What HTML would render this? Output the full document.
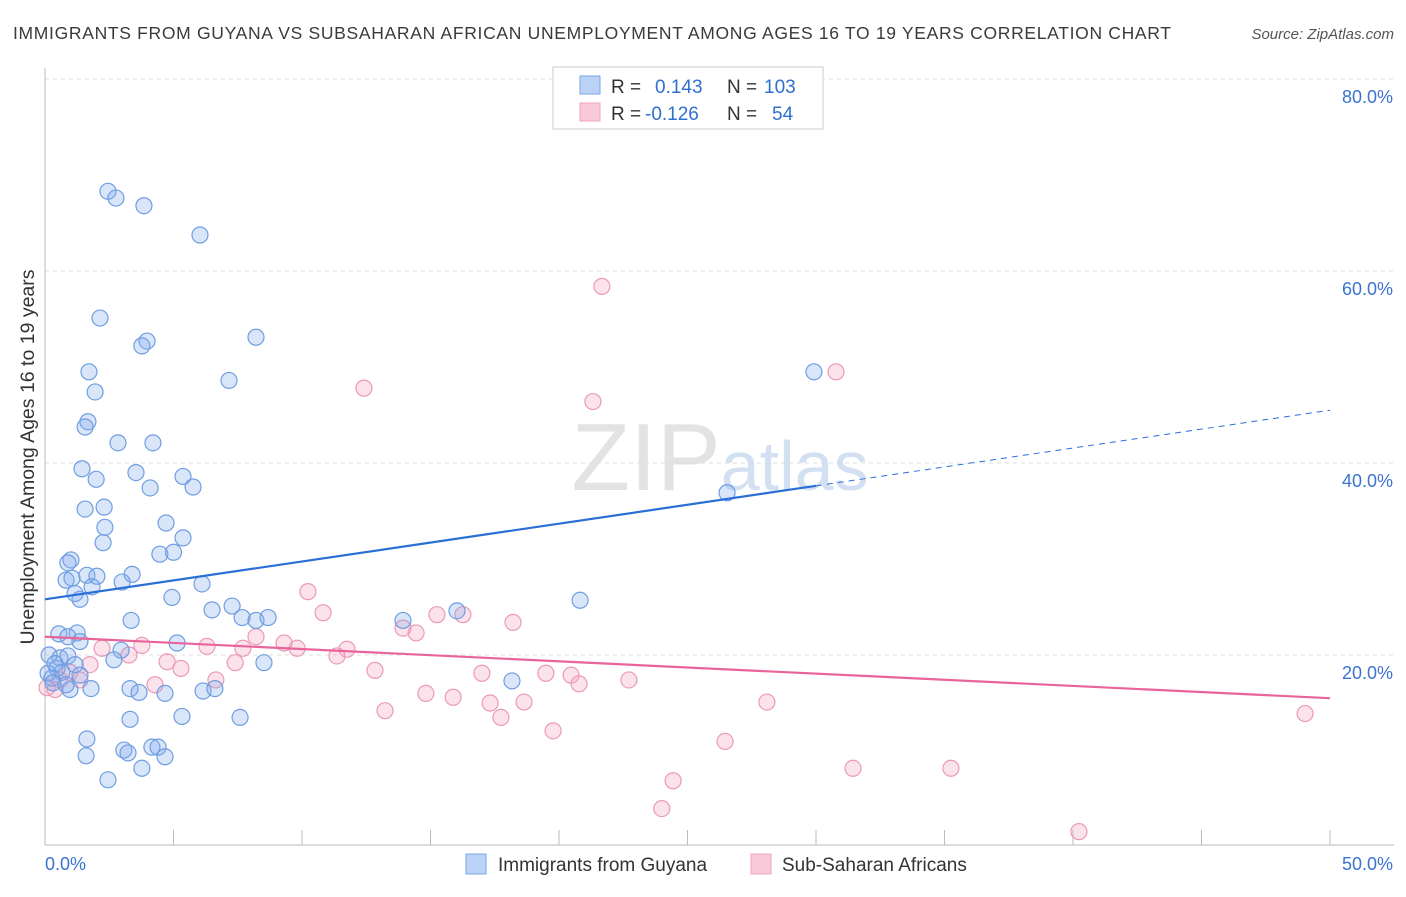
<!DOCTYPE html>
<html><head><meta charset="utf-8"><style>
body{margin:0;background:#fff;font-family:"Liberation Sans",sans-serif;}
svg text{font-family:"Liberation Sans",sans-serif;}
</style></head><body>
<svg id="chart" width="1406" height="892" viewBox="0 0 1406 892" xmlns="http://www.w3.org/2000/svg">
<text x="13" y="39" font-size="17.5" fill="#3a3a3a" textLength="1158" lengthAdjust="spacing">IMMIGRANTS FROM GUYANA VS SUBSAHARAN AFRICAN UNEMPLOYMENT AMONG AGES 16 TO 19 YEARS CORRELATION CHART</text>
<text x="1394" y="39" font-size="15" fill="#555" text-anchor="end" font-style="italic">Source: ZipAtlas.com</text>
<g id="grid"></g>
<text x="720" y="490" font-size="96" fill="#ddd" text-anchor="middle" font-family="Liberation Serif" opacity="0.8">ZIP<tspan fill="#c9d9f0" font-family="Liberation Sans" font-size="70">atlas</tspan></text>
<text transform="translate(34,457) rotate(-90)" font-size="19.5" fill="#333" text-anchor="middle">Unemployment Among Ages 16 to 19 years</text>
<g id="marks"></g>
<g>
<rect x="553" y="67" width="270" height="62" fill="#fff" stroke="#ccc"/>
<rect x="580" y="76" width="20" height="18" fill="#b9d2f5" stroke="#7aa6e6"/>
<rect x="580" y="103" width="20" height="18" fill="#f9c9d9" stroke="#eda3bc"/>
<text x="611" y="93" font-size="19" fill="#333">R =</text>
<text x="655" y="93" font-size="19" fill="#2f6fd0">0.143</text>
<text x="727" y="93" font-size="19" fill="#333">N =</text>
<text x="764" y="93" font-size="19" fill="#2f6fd0">103</text>
<text x="611" y="120" font-size="19" fill="#333">R =</text>
<text x="645" y="120" font-size="19" fill="#2f6fd0">-0.126</text>
<text x="727" y="120" font-size="19" fill="#333">N =</text>
<text x="772" y="120" font-size="19" fill="#2f6fd0">54</text>
</g>
<g>
<rect x="466" y="854" width="20" height="20" fill="#b9d2f5" stroke="#7aa6e6"/>
<text x="498" y="871" font-size="19" fill="#333">Immigrants from Guyana</text>
<rect x="751" y="854" width="20" height="20" fill="#f9c9d9" stroke="#eda3bc"/>
<text x="782" y="871" font-size="19" fill="#333">Sub-Saharan Africans</text>
</g>
</svg>
<script>
const xTicks=[0,5,10,15,20,25,30,35,40,45,50];
const yTicks=[20,40,60,80];
const yTickLabels=["20.0%","40.0%","60.0%","80.0%"];
const xLabels=["0.0%","50.0%"];
const blueX=[2.45,2.76,3.85,6.03,2.14,3.97,3.77,8.21,1.71,7.16,1.95,1.67,1.56,2.84,4.2,1.44,3.54,5.37,1.99,5.76,4.09,2.3,1.56,4.71,2.33,2.26,5.37,4.47,5.0,1.01,0.89,1.63,2.02,3.39,0.82,1.05,3.0,1.83,6.11,1.17,1.36,4.94,7.28,6.5,7.67,8.21,8.68,3.35,13.93,16.03,20.82,0.54,1.25,0.89,1.36,5.14,0.58,0.89,2.96,2.68,1.17,8.52,0.47,0.12,0.66,0.27,1.36,0.82,0.97,1.79,3.31,3.66,4.67,6.15,6.61,18.17,3.31,5.33,7.59,1.63,3.07,3.23,4.16,4.4,1.6,4.67,3.77,2.45,29.92,26.54,0.16,0.39,0.31];
const blueY=[68.3,67.6,66.8,63.75,55.1,52.7,52.2,53.1,49.5,48.6,47.4,44.3,43.75,42.1,42.1,39.4,39.0,38.6,38.3,37.5,37.4,35.4,35.2,33.75,33.3,31.7,32.2,30.5,30.7,29.9,29.6,28.3,28.2,28.4,27.8,28.0,27.6,27.1,27.4,26.4,25.8,26.0,25.1,24.7,23.9,23.6,23.9,23.6,23.6,24.6,25.7,22.2,22.3,21.9,21.4,21.25,19.7,19.9,20.5,19.5,19.0,19.2,18.6,18.1,18.2,17.6,17.9,16.9,16.4,16.5,16.5,16.1,16.0,16.25,16.5,17.3,13.3,13.6,13.5,11.25,10.1,9.8,10.4,10.4,9.5,9.4,8.2,7.0,49.5,36.9,20.0,19.1,17.1];
const pinkX=[21.67,12.41,21.32,30.78,10.23,10.82,15.25,16.26,18.21,13.93,14.44,8.21,3.77,6.3,9.3,9.81,11.75,2.22,3.27,11.36,7.7,4.75,7.4,5.29,12.84,1.75,17.0,19.49,20.47,22.72,20.78,6.65,4.28,14.82,15.88,17.32,18.64,28.09,13.23,17.74,49.03,19.77,26.46,31.44,35.25,24.44,24.0,40.23,0.39,0.97,0.58,0.08,1.36];
const pinkY=[58.4,47.8,46.4,49.5,26.6,24.4,24.2,24.2,23.4,22.8,22.3,21.9,21.0,20.9,21.25,20.7,20.6,20.7,20.0,19.9,20.7,19.3,19.2,18.6,18.4,19.0,18.1,18.1,17.9,17.4,17.0,17.4,16.9,16.0,15.6,15.0,15.1,15.1,14.2,13.5,13.9,12.1,11.0,8.2,8.2,6.9,4.0,1.6,16.4,18.2,17.4,16.6,17.4];
const blueTrend=[25.8,45.5];
const blueSolidEnd=30;
const pinkTrend=[21.9,15.5];

const NS="http://www.w3.org/2000/svg";
const X0=45,X1=1330,Y0=847,PPY=9.6;
const sx=v=>X0+(X1-X0)*v/50;
const sy=v=>Y0-v*PPY;
function mk(tag,attrs,parent){const e=document.createElementNS(NS,tag);for(const k in attrs)e.setAttribute(k,attrs[k]);parent.appendChild(e);return e;}
const grid=document.getElementById('grid'),marks=document.getElementById('marks');
yTicks.forEach((t,i)=>{
 const l=mk('line',{x1:X0,x2:1394,y1:sy(t),y2:sy(t),stroke:'#ddd','stroke-dasharray':'4,4'},grid);
 
 
 const tx=mk('text',{x:1393,y:sy(t)+24,'font-size':18,fill:'#3a73d0','text-anchor':'end'},grid);
 tx.textContent=yTickLabels[i];
 
 
});
const ax=mk('line',{x1:X0,x2:X0,y1:68,y2:845,stroke:'#bbb'},grid);


const bx=mk('line',{x1:X0,x2:1394,y1:845,y2:845,stroke:'#bbb'},grid);


xTicks.forEach(t=>{
 const l=mk('line',{x1:sx(t),x2:sx(t),y1:830,y2:845,stroke:'#bbb'},grid);
 
 
});
const xl0=mk('text',{x:45,y:870,'font-size':18,fill:'#3a73d0'},grid);xl0.textContent=xLabels[0];


const xl1=mk('text',{x:1393,y:870,'font-size':18,fill:'#3a73d0','text-anchor':'end'},grid);xl1.textContent=xLabels[1];


pinkX.forEach((v,i)=>{
 const c=mk('circle',{cx:sx(v),cy:sy(pinkY[i]),r:8,fill:'rgba(244,160,190,0.3)',stroke:'#eb9ab7','stroke-width':1.2},marks);
 
 
});
blueX.forEach((v,i)=>{
 const c=mk('circle',{cx:sx(v),cy:sy(blueY[i]),r:8,fill:'rgba(130,170,235,0.3)',stroke:'#6f9ee2','stroke-width':1.2},marks);
 
 
});
const bAt=x=>blueTrend[0]+(blueTrend[1]-blueTrend[0])*x/50;
const pAt=x=>pinkTrend[0]+(pinkTrend[1]-pinkTrend[0])*x/50;
const bl=mk('line',{x1:sx(0),y1:sy(bAt(0)),x2:sx(blueSolidEnd),y2:sy(bAt(blueSolidEnd)),stroke:'#2a6fd6','stroke-width':2.2},marks);


const bd=mk('line',{x1:sx(blueSolidEnd),y1:sy(bAt(blueSolidEnd)),x2:sx(50),y2:sy(bAt(50)),stroke:'#2a6fd6','stroke-width':1,'stroke-dasharray':'6,5'},marks);


const pl=mk('line',{x1:sx(0),y1:sy(pAt(0)),x2:sx(50),y2:sy(pAt(50)),stroke:'#e8649a','stroke-width':2.2},marks);


</script>
</body></html>
